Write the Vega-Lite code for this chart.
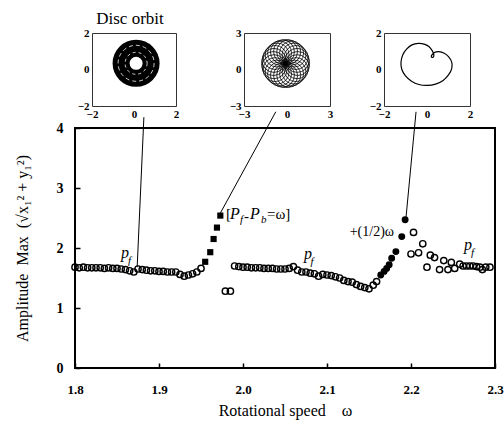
{
  "$schema": "https://vega.github.io/schema/vega-lite/v6.json",
  "padding": {"left": 13, "top": 9, "right": 5, "bottom": 5},
  "config": {"font": "Liberation Serif", "text": {"color": "black"}},
  "bounds": "flush",
  "spacing": 95,
  "datasets": {
    "pts": [
      {"w":1.800,"a":1.68,"k":"open"},{"w":1.805,"a":1.67,"k":"open"},{"w":1.810,"a":1.68,"k":"open"},{"w":1.815,"a":1.67,"k":"open"},
      {"w":1.820,"a":1.67,"k":"open"},{"w":1.825,"a":1.67,"k":"open"},{"w":1.830,"a":1.67,"k":"open"},{"w":1.835,"a":1.66,"k":"open"},
      {"w":1.840,"a":1.67,"k":"open"},{"w":1.845,"a":1.66,"k":"open"},{"w":1.850,"a":1.66,"k":"open"},{"w":1.855,"a":1.65,"k":"open"},
      {"w":1.860,"a":1.64,"k":"open"},{"w":1.865,"a":1.62,"k":"open"},{"w":1.870,"a":1.60,"k":"open"},{"w":1.875,"a":1.65,"k":"open"},
      {"w":1.880,"a":1.64,"k":"open"},{"w":1.885,"a":1.63,"k":"open"},{"w":1.890,"a":1.62,"k":"open"},{"w":1.895,"a":1.62,"k":"open"},
      {"w":1.900,"a":1.61,"k":"open"},{"w":1.905,"a":1.61,"k":"open"},{"w":1.910,"a":1.60,"k":"open"},{"w":1.915,"a":1.60,"k":"open"},
      {"w":1.920,"a":1.60,"k":"open"},{"w":1.925,"a":1.56,"k":"open"},{"w":1.930,"a":1.53,"k":"open"},{"w":1.935,"a":1.55,"k":"open"},
      {"w":1.940,"a":1.57,"k":"open"},{"w":1.945,"a":1.60,"k":"open"},{"w":1.950,"a":1.66,"k":"open"},
      {"w":1.955,"a":1.77,"k":"sq"},{"w":1.961,"a":1.93,"k":"sq"},{"w":1.965,"a":2.15,"k":"sq"},{"w":1.969,"a":2.34,"k":"sq"},{"w":1.973,"a":2.54,"k":"sq"},
      {"w":1.979,"a":1.28,"k":"open"},{"w":1.985,"a":1.28,"k":"open"},
      {"w":1.990,"a":1.70,"k":"open"},{"w":1.995,"a":1.69,"k":"open"},{"w":2.000,"a":1.68,"k":"open"},{"w":2.005,"a":1.68,"k":"open"},
      {"w":2.010,"a":1.67,"k":"open"},{"w":2.015,"a":1.67,"k":"open"},{"w":2.020,"a":1.67,"k":"open"},{"w":2.025,"a":1.66,"k":"open"},
      {"w":2.030,"a":1.66,"k":"open"},{"w":2.035,"a":1.66,"k":"open"},{"w":2.040,"a":1.65,"k":"open"},{"w":2.045,"a":1.65,"k":"open"},
      {"w":2.050,"a":1.65,"k":"open"},{"w":2.055,"a":1.66,"k":"open"},{"w":2.060,"a":1.69,"k":"open"},{"w":2.065,"a":1.63,"k":"open"},
      {"w":2.070,"a":1.60,"k":"open"},{"w":2.075,"a":1.60,"k":"open"},{"w":2.080,"a":1.58,"k":"open"},{"w":2.085,"a":1.57,"k":"open"},
      {"w":2.090,"a":1.53,"k":"open"},{"w":2.095,"a":1.56,"k":"open"},{"w":2.100,"a":1.55,"k":"open"},{"w":2.105,"a":1.54,"k":"open"},
      {"w":2.110,"a":1.52,"k":"open"},{"w":2.115,"a":1.50,"k":"open"},{"w":2.120,"a":1.46,"k":"open"},{"w":2.125,"a":1.44,"k":"open"},
      {"w":2.130,"a":1.43,"k":"open"},{"w":2.135,"a":1.39,"k":"open"},{"w":2.140,"a":1.36,"k":"open"},{"w":2.145,"a":1.34,"k":"open"},
      {"w":2.150,"a":1.32,"k":"open"},{"w":2.155,"a":1.38,"k":"open"},{"w":2.159,"a":1.44,"k":"open"},
      {"w":2.164,"a":1.55,"k":"fill"},{"w":2.168,"a":1.61,"k":"fill"},{"w":2.171,"a":1.66,"k":"fill"},{"w":2.174,"a":1.72,"k":"fill"},
      {"w":2.177,"a":1.83,"k":"fill"},{"w":2.182,"a":1.94,"k":"fill"},{"w":2.189,"a":2.19,"k":"fill"},{"w":2.193,"a":2.47,"k":"fill"},
      {"w":2.200,"a":1.90,"k":"open"},{"w":2.203,"a":2.26,"k":"open"},{"w":2.209,"a":1.92,"k":"open"},{"w":2.214,"a":2.07,"k":"open"},
      {"w":2.219,"a":1.68,"k":"open"},{"w":2.223,"a":1.88,"k":"open"},{"w":2.228,"a":1.84,"k":"open"},{"w":2.234,"a":1.64,"k":"open"},
      {"w":2.239,"a":1.79,"k":"open"},{"w":2.244,"a":1.64,"k":"open"},{"w":2.248,"a":1.76,"k":"open"},{"w":2.252,"a":1.66,"k":"open"},
      {"w":2.258,"a":1.73,"k":"open"},{"w":2.262,"a":1.70,"k":"open"},{"w":2.266,"a":1.70,"k":"open"},{"w":2.270,"a":1.70,"k":"open"},
      {"w":2.274,"a":1.70,"k":"open"},{"w":2.278,"a":1.69,"k":"open"},{"w":2.282,"a":1.68,"k":"open"},{"w":2.285,"a":1.64,"k":"open"},
      {"w":2.289,"a":1.68,"k":"open"},{"w":2.294,"a":1.68,"k":"open"}
    ],
    "links": [
      {"w":1.874,"a":1.68,"w2":1.882,"a2":4.18},
      {"w":1.9726,"a":2.57,"w2":2.039,"a2":4.27},
      {"w":2.194,"a":2.50,"w2":2.206,"a2":4.27}
    ],
    "labels": [
      {"w":1.8548,"a":1.833,"t":"p","s":"it"},
      {"w":1.8630,"a":1.733,"t":"f","s":"sub"},
      {"w":2.0726,"a":1.817,"t":"p","s":"it"},
      {"w":2.0804,"a":1.717,"t":"f","s":"sub"},
      {"w":2.2630,"a":1.967,"t":"p","s":"it"},
      {"w":2.2714,"a":1.867,"t":"f","s":"sub"},
      {"w":1.9798,"a":2.483,"t":"[","s":"up"},
      {"w":1.9845,"a":2.483,"t":"P","s":"it"},
      {"w":1.9964,"a":2.417,"t":"f","s":"sub"},
      {"w":2.0012,"a":2.45,"t":"-","s":"up"},
      {"w":2.0083,"a":2.483,"t":"P","s":"it"},
      {"w":2.0214,"a":2.417,"t":"b","s":"sub"},
      {"w":2.0286,"a":2.483,"t":"=ω]","s":"up"},
      {"w":2.1798,"a":2.20,"t":"+(1/2)ω","s":"upr"}
    ]
  },
  "vconcat": [
    {
      "hconcat": [
        {"width": 17, "height": 73, "data": {"values": []}, "mark": "point", "view": {"stroke": null}},
        {
          "width": 84, "height": 73,
          "view": {"stroke": "#333", "strokeWidth": 1},
          "encoding": {
            "x": {"field": "x", "type": "quantitative", "scale": {"domain": [-2, 2], "nice": false}, "axis": {"values": [-2, 0, 2], "title": null, "grid": false, "domain": false, "ticks": false, "labelPadding": 2, "labelFontSize": 11, "labelFontWeight": "bold", "labelColor": "black", "labelFlush": false}},
            "y": {"field": "y", "type": "quantitative", "scale": {"domain": [-2, 2], "nice": false}, "axis": {"values": [-2, 0, 2], "title": null, "grid": false, "domain": false, "ticks": false, "labelPadding": 3, "labelFontSize": 11, "labelFontWeight": "bold", "labelColor": "black", "labelFlush": false}}
          },
          "layer": [
            {"data": {"values": [{"x": 0.1, "y": 0.34}]}, "mark": {"type": "point", "shape": "circle", "filled": false, "stroke": "black", "strokeWidth": 17, "size": 900, "opacity": 1}},
            {"data": {"values": [{"x": 0.1, "y": 0.34}]}, "mark": {"type": "point", "shape": "circle", "filled": false, "stroke": "white", "strokeWidth": 0.8, "strokeDash": [3, 3], "size": 484, "opacity": 1}},
            {"data": {"values": [{"x": 0.1, "y": 0.34}]}, "mark": {"type": "point", "shape": "circle", "filled": false, "stroke": "white", "strokeWidth": 0.8, "strokeDash": [4, 3], "size": 1296, "opacity": 1}},
            {"data": {"values": [{"x": -0.19, "y": 2.49, "t": "Disc orbit"}]}, "mark": {"type": "text", "align": "center", "baseline": "alphabetic", "fontSize": 17, "color": "black", "clip": false}, "encoding": {"text": {"field": "t"}}}
          ]
        },
        {"width": 68, "height": 73, "data": {"values": []}, "mark": "point", "view": {"stroke": null}},
        {
          "width": 86, "height": 73,
          "view": {"stroke": "#333", "strokeWidth": 1},
          "data": {"values": [
            {"x":0.74,"y":0.49},{"x":0.71,"y":0.75},{"x":0.63,"y":0.99},{"x":0.49,"y":1.19},{"x":0.32,"y":1.35},{"x":0.12,"y":1.45},
            {"x":-0.10,"y":1.48},{"x":-0.32,"y":1.45},{"x":-0.52,"y":1.35},{"x":-0.69,"y":1.19},{"x":-0.83,"y":0.99},{"x":-0.91,"y":0.75},
            {"x":-0.94,"y":0.49},{"x":-0.91,"y":0.23},{"x":-0.83,"y":-0.01},{"x":-0.69,"y":-0.21},{"x":-0.52,"y":-0.37},{"x":-0.32,"y":-0.47},
            {"x":-0.10,"y":-0.50},{"x":0.12,"y":-0.47},{"x":0.32,"y":-0.37},{"x":0.49,"y":-0.21},{"x":0.63,"y":-0.01},{"x":0.71,"y":0.23}
          ]},
          "mark": {"type": "point", "shape": "circle", "filled": false, "stroke": "black", "strokeWidth": 0.8, "size": 576, "opacity": 1},
          "encoding": {
            "x": {"field": "x", "type": "quantitative", "scale": {"domain": [-3, 3], "nice": false}, "axis": {"values": [-3, 0, 3], "title": null, "grid": false, "domain": false, "ticks": false, "labelPadding": 2, "labelFontSize": 11, "labelFontWeight": "bold", "labelColor": "black", "labelFlush": false}},
            "y": {"field": "y", "type": "quantitative", "scale": {"domain": [-3, 3], "nice": false}, "axis": {"values": [-3, 0, 3], "title": null, "grid": false, "domain": false, "ticks": false, "labelPadding": 3, "labelFontSize": 11, "labelFontWeight": "bold", "labelColor": "black", "labelFlush": false}}
          }
        },
        {"width": 54, "height": 73, "data": {"values": []}, "mark": "point", "view": {"stroke": null}},
        {
          "width": 86, "height": 73,
          "view": {"stroke": "#333", "strokeWidth": 1},
          "data": {"values": [
            {"x":0.25,"y":1.02,"o":1},{"x":0.10,"y":1.25,"o":2},{"x":-0.10,"y":1.38,"o":3},{"x":-0.40,"y":1.43,"o":4},
            {"x":-0.70,"y":1.35,"o":5},{"x":-0.95,"y":1.12,"o":6},{"x":-1.13,"y":0.80,"o":7},{"x":-1.21,"y":0.40,"o":8},
            {"x":-1.17,"y":0.00,"o":9},{"x":-1.00,"y":-0.35,"o":10},{"x":-0.72,"y":-0.64,"o":11},{"x":-0.38,"y":-0.82,"o":12},
            {"x":0.00,"y":-0.87,"o":13},{"x":0.40,"y":-0.80,"o":14},{"x":0.75,"y":-0.60,"o":15},{"x":1.00,"y":-0.30,"o":16},
            {"x":1.15,"y":0.05,"o":17},{"x":1.15,"y":0.40,"o":18},{"x":1.00,"y":0.70,"o":19},{"x":0.78,"y":0.90,"o":20},
            {"x":0.55,"y":0.98,"o":21},{"x":0.38,"y":0.95,"o":22},{"x":0.27,"y":0.85,"o":23},{"x":0.20,"y":0.74,"o":24},
            {"x":0.24,"y":0.66,"o":25},{"x":0.31,"y":0.71,"o":26},{"x":0.31,"y":0.85,"o":27},{"x":0.25,"y":1.02,"o":28}
          ]},
          "mark": {"type": "line", "color": "black", "strokeWidth": 1.2, "interpolate": "cardinal"},
          "encoding": {
            "x": {"field": "x", "type": "quantitative", "scale": {"domain": [-2, 2], "nice": false}, "axis": {"values": [-2, 0, 2], "title": null, "grid": false, "domain": false, "ticks": false, "labelPadding": 2, "labelFontSize": 11, "labelFontWeight": "bold", "labelColor": "black", "labelFlush": false}},
            "y": {"field": "y", "type": "quantitative", "scale": {"domain": [-2, 2], "nice": false}, "axis": {"values": [-2, 0, 2], "title": null, "grid": false, "domain": false, "ticks": false, "labelPadding": 3, "labelFontSize": 11, "labelFontWeight": "bold", "labelColor": "black", "labelFlush": false}},
            "order": {"field": "o", "type": "quantitative"}
          }
        }
      ],
      "spacing": 0,
      "bounds": "flush"
    },
    {
      "width": 420, "height": 240,
      "view": {"stroke": "black", "strokeWidth": 2},
      "encoding": {
        "x": {"field": "w", "type": "quantitative", "scale": {"domain": [1.8, 2.3], "nice": false, "zero": false},
              "axis": {"values": [1.8, 1.9, 2.0, 2.1, 2.2, 2.3], "format": ".1f", "title": "Rotational speed\u00a0\u00a0\u00a0\u00a0ω", "grid": false, "domain": false, "tickSize": -5, "tickColor": "black", "tickWidth": 1.5, "labelFontSize": 13, "labelFontWeight": "bold", "labelColor": "black", "labelPadding": 20, "labelFlush": false, "labelOverlap": false, "titleFontSize": 16, "titleFontWeight": "normal", "titleColor": "black", "titlePadding": 6}},
        "y": {"field": "a", "type": "quantitative", "scale": {"domain": [0, 4], "nice": false},
              "axis": {"values": [0, 1, 2, 3, 4], "title": "Amplitude\u00a0\u00a0Max\u00a0\u00a0(√x₁² + y₁²)", "grid": false, "domain": false, "tickSize": -5, "tickColor": "black", "tickWidth": 1.5, "labelFontSize": 14, "labelFontWeight": "bold", "labelColor": "black", "labelPadding": 17, "labelFlush": false, "labelOverlap": false, "titleFontSize": 16, "titleFontWeight": "normal", "titleColor": "black", "titlePadding": 26}}
      },
      "layer": [
        {"data": {"name": "links"}, "mark": {"type": "rule", "color": "black", "strokeWidth": 1}, "encoding": {"x2": {"field": "w2"}, "y2": {"field": "a2"}}},
        {"data": {"name": "pts"}, "transform": [{"filter": "datum.k === 'open'"}], "mark": {"type": "point", "shape": "circle", "filled": false, "stroke": "black", "strokeWidth": 1.4, "size": 40, "opacity": 1}},
        {"data": {"name": "pts"}, "transform": [{"filter": "datum.k === 'sq'"}], "mark": {"type": "point", "shape": "square", "filled": true, "color": "black", "size": 38, "opacity": 1}},
        {"data": {"name": "pts"}, "transform": [{"filter": "datum.k === 'fill'"}], "mark": {"type": "point", "shape": "circle", "filled": true, "color": "black", "size": 48, "opacity": 1}},
        {"data": {"name": "labels"}, "transform": [{"filter": "datum.s === 'it'"}], "mark": {"type": "text", "align": "left", "baseline": "alphabetic", "fontSize": 16, "fontStyle": "italic", "color": "black"}, "encoding": {"text": {"field": "t"}}},
        {"data": {"name": "labels"}, "transform": [{"filter": "datum.s === 'sub'"}], "mark": {"type": "text", "align": "left", "baseline": "alphabetic", "fontSize": 11, "fontStyle": "italic", "color": "black"}, "encoding": {"text": {"field": "t"}}},
        {"data": {"name": "labels"}, "transform": [{"filter": "datum.s === 'up'"}], "mark": {"type": "text", "align": "left", "baseline": "alphabetic", "fontSize": 15, "color": "black"}, "encoding": {"text": {"field": "t"}}},
        {"data": {"name": "labels"}, "transform": [{"filter": "datum.s === 'upr'"}], "mark": {"type": "text", "align": "right", "baseline": "alphabetic", "fontSize": 14, "color": "black"}, "encoding": {"text": {"field": "t"}}}
      ]
    }
  ]
}
